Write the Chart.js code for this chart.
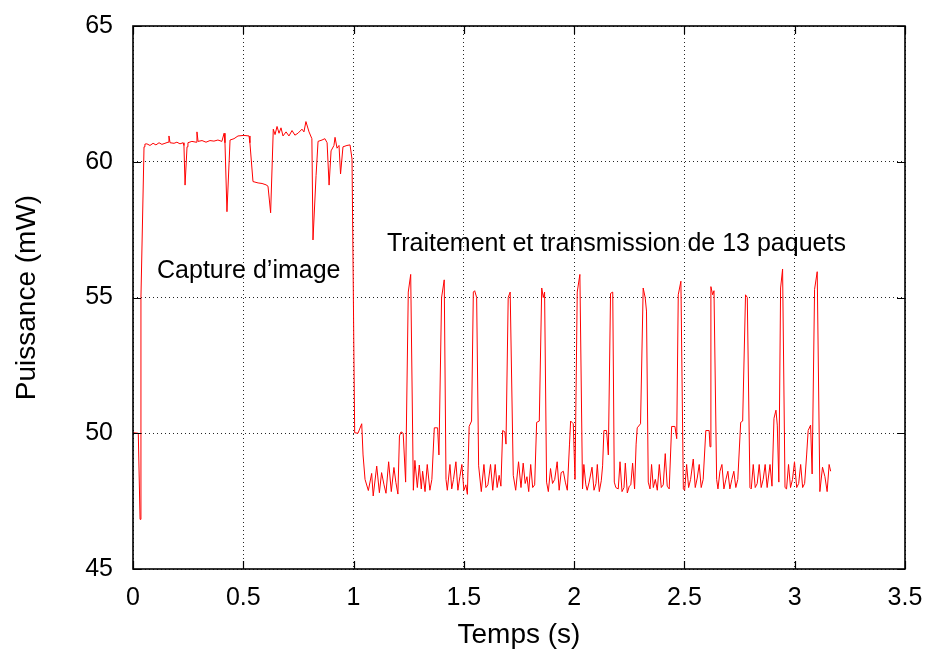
<!DOCTYPE html>
<html>
<head>
<meta charset="utf-8">
<script src="https://cdn.jsdelivr.net/npm/chart.js@4.4.1/dist/chart.umd.min.js"></script>
<style>
  html, body { margin: 0; padding: 0; background: #fff; }
  #wrap { width: 933px; height: 657px; }
</style>
</head>
<body>
<div id="wrap"><canvas id="puissanceChart" width="933" height="657"></canvas></div>
<script>
// Phase 1 : capture d'image (temps en s, puissance en mW)
const captureTemps = [
  0.001, 0.024, 0.032, 0.036, 0.050, 0.054, 0.063, 0.077, 0.091, 0.104,
  0.118, 0.131, 0.145, 0.159, 0.163, 0.168, 0.186, 0.199, 0.213, 0.227,
  0.231, 0.236, 0.245, 0.249, 0.267, 0.286, 0.290, 0.295, 0.313, 0.331,
  0.349, 0.367, 0.385, 0.403, 0.413, 0.417, 0.426, 0.440, 0.458, 0.476,
  0.503, 0.526, 0.530, 0.544, 0.567, 0.585, 0.603, 0.612, 0.624, 0.636,
  0.644, 0.653, 0.662, 0.671, 0.680, 0.694, 0.707, 0.721, 0.734, 0.748,
  0.766, 0.775, 0.784, 0.798, 0.811, 0.816, 0.830, 0.839, 0.857, 0.870,
  0.880, 0.889, 0.898, 0.911, 0.916, 0.925, 0.934, 0.941, 0.952, 0.970,
  0.984, 0.993, 1.005, 1.020, 1.037, 1.043
];
const capturePuissance = [
  50.02, 50.0, 46.83, 55.0, 60.55, 60.65, 60.66, 60.6, 60.68, 60.62,
  60.7, 60.64, 60.68, 60.72, 60.95, 60.7, 60.68, 60.72, 60.66, 60.7,
  60.6, 59.14, 60.55, 60.7, 60.75, 60.72, 61.1, 60.75, 60.78, 60.72,
  60.78, 60.76, 60.8, 60.75, 61.05, 60.7, 58.16, 60.8, 60.85, 60.95,
  60.97, 60.95, 60.7, 59.27, 59.22, 59.2, 59.15, 59.1, 58.12, 61.2,
  61.0, 61.3, 61.05, 61.25, 60.95, 61.1, 60.95, 61.15, 60.98, 61.05,
  61.2, 61.1, 61.48, 61.1, 60.85, 57.12, 59.5, 60.75, 60.8, 60.85,
  60.7, 59.14, 60.4, 60.6, 60.9, 60.5, 60.6, 59.55, 60.55, 60.6,
  60.62, 60.1, 50.02, 50.0, 50.35, 49.2
];

// Phase 2 : traitement et transmission des 13 paquets
const transTemps = [
  1.052, 1.067, 1.082, 1.089, 1.105, 1.117, 1.127, 1.138, 1.147, 1.159, 1.171, 1.183, 1.192, 1.201,
  1.208, 1.215, 1.225, 1.236, 1.248, 1.259, 1.271,
  1.278, 1.289, 1.298, 1.307, 1.313, 1.324, 1.334, 1.346, 1.355,
  1.366, 1.381, 1.387, 1.399, 1.411, 1.419,
  1.425, 1.437, 1.445, 1.453, 1.464, 1.473, 1.482, 1.491, 1.500, 1.509, 1.516,
  1.524, 1.535, 1.543, 1.549, 1.558, 1.567,
  1.579, 1.591, 1.600, 1.609, 1.621, 1.631, 1.642, 1.651, 1.660, 1.668,
  1.676, 1.686, 1.691, 1.701, 1.710, 1.724,
  1.735, 1.748, 1.759, 1.769, 1.778, 1.786, 1.794, 1.803, 1.812, 1.821,
  1.830, 1.842, 1.853, 1.860, 1.866, 1.875,
  1.883, 1.893, 1.902, 1.912, 1.923, 1.932, 1.941, 1.951, 1.960, 1.969,
  1.979, 1.984, 1.996, 2.004, 2.014, 2.026, 2.038,
  2.044, 2.053, 2.059, 2.068, 2.081, 2.090, 2.099, 2.105, 2.114, 2.123, 2.129,
  2.135, 2.147, 2.155, 2.165, 2.175, 2.182,
  2.189, 2.200, 2.208, 2.217, 2.226, 2.232, 2.241, 2.250, 2.257, 2.265, 2.274,
  2.281, 2.286, 2.301, 2.313, 2.322, 2.328, 2.336,
  2.344, 2.351, 2.359, 2.368, 2.377, 2.386, 2.395, 2.404, 2.413, 2.422, 2.431,
  2.442, 2.457, 2.465, 2.472, 2.484, 2.495,
  2.501, 2.510, 2.519, 2.528, 2.540, 2.549, 2.558, 2.567, 2.576, 2.585,
  2.597, 2.612, 2.616, 2.620, 2.628, 2.634, 2.646,
  2.652, 2.661, 2.670, 2.679, 2.688, 2.697, 2.706, 2.715, 2.724, 2.733, 2.742,
  2.755, 2.764, 2.777, 2.785, 2.797,
  2.803, 2.812, 2.821, 2.830, 2.839, 2.848, 2.857, 2.866, 2.875, 2.888, 2.897,
  2.906, 2.915, 2.921, 2.928, 2.936, 2.945, 2.956,
  2.963, 2.972, 2.981, 2.990, 2.999, 3.009, 3.018, 3.027, 3.036, 3.045, 3.054,
  3.061, 3.072, 3.079, 3.090, 3.102, 3.114,
  3.126, 3.137, 3.147, 3.156, 3.163
];
const transPuissance = [
  48.30, 47.89, 48.52, 47.69, 48.79, 47.81, 48.55, 48.1, 47.79, 48.95, 47.85, 48.74, 48.18, 47.76,
  49.9, 50.05, 50.0, 48.2, 55.2, 55.85, 47.9,
  49.0, 48.0, 48.83, 47.95, 48.6, 47.85, 48.85, 47.9, 48.3,
  50.2, 50.2, 49.2, 55.0, 55.65, 48.3,
  47.9, 48.85, 47.95, 48.3, 48.95, 47.9, 48.4, 48.85, 47.9, 48.1, 47.75,
  50.25, 50.45, 55.2, 55.25, 55.0, 48.8,
  47.85, 48.85, 48.0, 48.1, 48.85, 47.9, 48.85, 48.0, 48.45, 48.05,
  50.1, 50.05, 49.6, 55.0, 55.2, 48.45,
  47.9, 48.95, 48.0, 48.9, 48.15, 48.4, 47.85, 48.85, 48.0, 48.1,
  50.4, 50.45, 55.35, 55.0, 55.2, 48.2,
  47.85, 48.7, 48.15, 48.3, 48.95, 47.9, 48.55, 48.6, 48.2, 47.9,
  49.6, 50.45, 50.35, 48.3, 55.2, 55.85, 47.95,
  48.85, 48.1, 47.9, 48.2, 48.75, 47.9, 48.15, 48.85, 47.85, 48.25, 48.8,
  50.1, 50.1, 49.2, 55.15, 55.2, 48.2,
  48.0, 47.95, 48.95, 47.85, 48.0, 48.9, 47.8, 48.05, 48.1, 48.9, 47.95,
  49.6, 50.2, 50.35, 55.35, 55.0, 54.5, 48.2,
  47.95, 48.85, 48.0, 48.3, 47.9, 48.85, 48.0, 48.1, 49.25, 48.05, 47.95,
  50.25, 50.25, 49.8, 55.1, 55.6, 47.95,
  47.9, 48.85, 48.0, 48.3, 49.05, 48.0, 48.35, 48.85, 48.0, 48.3,
  50.1, 50.1, 49.5, 55.4, 55.1, 55.25, 48.3,
  47.95, 48.6, 48.85, 47.95, 48.3, 48.6, 47.95, 48.3, 48.6, 48.0, 48.3,
  50.4, 50.45, 55.1, 55.0, 48.0,
  47.95, 48.85, 48.0, 48.15, 48.85, 48.0, 48.3, 48.85, 48.0, 48.85, 48.05,
  50.55, 50.85, 50.3, 48.2, 55.35, 56.05, 48.0,
  47.95, 48.85, 48.0, 48.3, 48.95, 48.0, 48.15, 48.85, 48.0, 48.15, 49.2,
  50.1, 50.3, 48.5, 55.3, 55.95, 47.85,
  48.75, 48.4, 47.85, 48.85, 48.6
];

const xTicks = [0, 0.5, 1, 1.5, 2, 2.5, 3, 3.5];
const yTicks = [45, 50, 55, 60, 65];

const annotations = [
  { text: 'Capture d\u2019image', x: 0.109, y: 55.72 },
  { text: 'Traitement et transmission de 13 paquets', x: 1.151, y: 56.71 }
];

const police = 'Liberation Sans, Arial, sans-serif';

const points = captureTemps.map((t, i) => ({ x: t, y: capturePuissance[i] }))
  .concat(transTemps.map((t, i) => ({ x: t, y: transPuissance[i] })));

// Cadre complet avec graduations internes (haut, bas, gauche, droite)
const cadrePlugin = {
  id: 'cadre',
  afterDatasetsDraw(chart) {
    const { ctx, chartArea: a, scales: { x, y } } = chart;
    const tl = 8;
    ctx.save();
    ctx.strokeStyle = '#000';
    ctx.lineWidth = 1.2;
    ctx.beginPath();
    xTicks.forEach(v => {
      const px = Math.round(x.getPixelForValue(v)) + 0.5;
      ctx.moveTo(px, a.bottom); ctx.lineTo(px, a.bottom - tl);
      ctx.moveTo(px, a.top); ctx.lineTo(px, a.top + tl);
    });
    yTicks.forEach(v => {
      const py = Math.round(y.getPixelForValue(v)) + 0.5;
      ctx.moveTo(a.left, py); ctx.lineTo(a.left + tl, py);
      ctx.moveTo(a.right, py); ctx.lineTo(a.right - tl, py);
    });
    ctx.stroke();
    ctx.lineWidth = 1.6;
    ctx.strokeRect(a.left, a.top, a.right - a.left, a.bottom - a.top);

    // textes
    ctx.fillStyle = '#000';
    ctx.font = '25px ' + police;
    ctx.textAlign = 'left';
    ctx.textBaseline = 'alphabetic';
    annotations.forEach(an => {
      ctx.fillText(an.text, x.getPixelForValue(an.x), y.getPixelForValue(an.y));
    });
    ctx.restore();
  }
};

new Chart(document.getElementById('puissanceChart'), {
  type: 'scatter',
  data: {
    datasets: [{
      data: points,
      showLine: true,
      borderColor: '#ff0000',
      borderWidth: 1,
      pointRadius: 0,
      tension: 0,
      fill: false
    }]
  },
  options: {
    responsive: false,
    animation: false,
    layout: { padding: { top: 26, right: 28, left: 0, bottom: 0 } },
    plugins: { legend: { display: false }, tooltip: { enabled: false } },
    scales: {
      x: {
        type: 'linear',
        min: 0,
        max: 3.5,
        afterFit: s => { s.height = 88; s.paddingLeft = 0; s.paddingRight = 0; },
        afterBuildTicks: s => { s.ticks = xTicks.map(v => ({ value: v })); },
        ticks: {
          color: '#000',
          padding: 14,
          maxRotation: 0,
          font: { family: police, size: 25 },
          callback: v => String(v)
        },
        grid: {
          color: 'rgba(0,0,0,0.85)',
          lineWidth: 1,
          drawTicks: false
        },
        border: { display: false, dash: [1, 3] },
        title: {
          display: true,
          text: 'Temps (s)',
          color: '#000',
          font: { family: police, size: 28 },
          padding: { top: 0, bottom: 5 }
        }
      },
      y: {
        type: 'linear',
        min: 45,
        max: 65,
        afterFit: s => { s.width = 133; s.paddingTop = 0; s.paddingBottom = 0; },
        afterBuildTicks: s => { s.ticks = yTicks.map(v => ({ value: v })); },
        ticks: {
          color: '#000',
          padding: 20,
          font: { family: police, size: 25 },
          callback: v => String(v)
        },
        grid: {
          color: 'rgba(0,0,0,0.85)',
          lineWidth: 1,
          drawTicks: false
        },
        border: { display: false, dash: [1, 3] },
        title: {
          display: true,
          text: 'Puissance (mW)',
          color: '#000',
          font: { family: police, size: 28 },
          padding: { top: 10, bottom: 0 }
        }
      }
    }
  },
  plugins: [cadrePlugin]
});
</script>
</body>
</html>
